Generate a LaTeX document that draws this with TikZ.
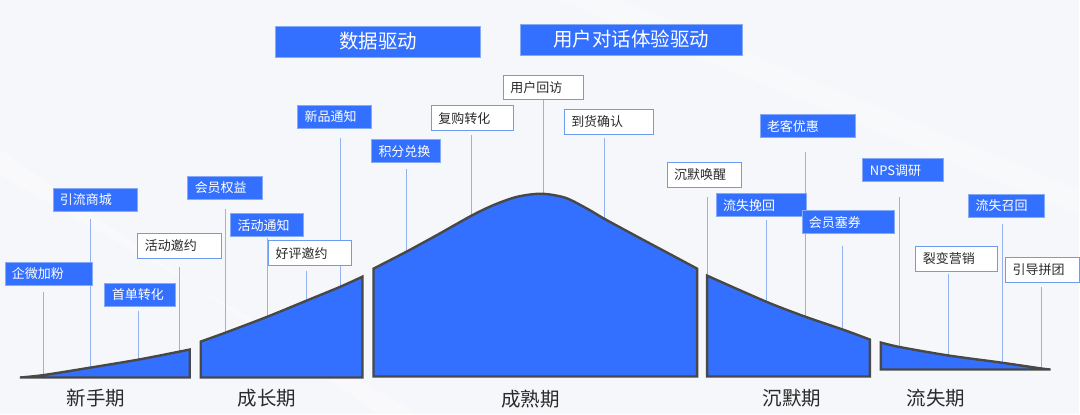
\documentclass[tikz,border=0pt]{standalone}
\usepackage{fontspec}
\newfontfamily\cjk{Noto Sans CJK SC}
\definecolor{mblue}{HTML}{3370FF}
\definecolor{bbord}{HTML}{86AAF6}
\definecolor{wbord}{HTML}{6E9BF2}
\definecolor{connc}{HTML}{93B3F0}
\definecolor{outl}{HTML}{484848}
\definecolor{bgc}{HTML}{F6F7FA}
\definecolor{txtc}{HTML}{2A2A2A}
\pgfdeclarelayer{bgl}
\pgfdeclarelayer{lines}
\pgfsetlayers{bgl,lines,main}
\tikzset{
  bl/.style={fill=mblue, draw=bbord, line width=0.8pt, text=white, align=left,
    inner xsep=7pt, inner ysep=0pt, minimum height=23pt, font=\cjk\fontsize{13}{15}\selectfont},
  wh/.style={fill=white, draw=wbord, line width=0.8pt, text=txtc, align=left,
    inner xsep=7pt, inner ysep=0pt, minimum height=25pt, font=\cjk\fontsize{13}{15}\selectfont},
  hdr/.style={fill=mblue, draw=bbord, line width=0.8pt, text=white, inner sep=0pt,
    minimum height=31pt, font=\cjk\fontsize{19.5}{22}\selectfont},
  stagebox/.style={fill=mblue, draw=outl, line width=2.4pt, line join=miter},
  stagelab/.style={text=txtc, font=\cjk\fontsize{19.5}{22}\selectfont, inner sep=0pt},
  conn/.style={draw=connc, line width=1pt},
}
\begin{document}
\begin{tikzpicture}[x=1pt,y=-1pt]
\begin{pgfonlayer}{bgl}
\useasboundingbox[fill=bgc] (0,0) rectangle (1080,415);
\fill[white,opacity=0.35] (0,150) -- (0,175) -- (420,415) -- (380,415) -- cycle;
\fill[white,opacity=0.3] (560,0) -- (620,0) -- (1080,190) -- (1080,215) -- cycle;
\end{pgfonlayer}

% ---------- headers ----------
\node[hdr, minimum width=205pt] (h1) at (378.5,41.5) {数据驱动};
\node[hdr, minimum width=222pt] (h2) at (632,39.5) {用户对话体验驱动};

% ---------- stage shapes ----------
\draw[stagebox] plot[smooth] coordinates {(20,378) (44,375.5) (91,368) (139,360) (180,352) (190,350)} -- (190,378) -- cycle;
\draw[stagebox] (201,378) -- plot[smooth] coordinates {(201,342) (226,333) (268,317) (307,301) (341,287) (363,277)} -- (363,378) -- cycle;
\draw[stagebox] (374,377) -- plot[smooth] coordinates {(374,269) (407,252) (440,234) (472,216) (495,205) (518,197) (542,194) (566,198) (588,209) (605,219) (640,238) (670,254) (698,269)} -- (698,377) -- cycle;
\draw[stagebox] (708,377) -- plot[smooth] coordinates {(708,276) (767,302) (806,317) (844,330) (871,340)} -- (871,377) -- cycle;
\draw[stagebox] (882,370) -- plot[smooth] coordinates {(882,343) (901,347.5) (950,356) (1002,363) (1043,369) (1052,370)} -- cycle;

% ---------- stage labels ----------
\node[stagelab] (s1) at (96,399) {新手期};
\node[stagelab] (s2) at (267.5,399) {成长期};
\node[stagelab] (s3) at (531,400) {成熟期};
\node[stagelab] (s4) at (793,399) {沉默期};
\node[stagelab] (s5) at (937,399) {流失期};

% ---------- curve anchor points ----------
\coordinate (p-qwjf) at (44,375.5);
\coordinate (p-ylsc) at (91,368);
\coordinate (p-sdzh) at (139,360);
\coordinate (p-hdyy) at (180,352);
\coordinate (p-hyqy) at (226,333);
\coordinate (p-hdtz) at (268,317);
\coordinate (p-hpyy) at (307,301);
\coordinate (p-xptz) at (341,287);
\coordinate (p-jfdh) at (407,252);
\coordinate (p-fgzh) at (472,216);
\coordinate (p-yhhf) at (544,194);
\coordinate (p-dhqr) at (605,219);
\coordinate (p-cmhx) at (708,276);
\coordinate (p-lswh) at (767,302);
\coordinate (p-lkyh) at (807,317);
\coordinate (p-hysq) at (844,330);
\coordinate (p-nps)  at (901,347.5);
\coordinate (p-lbyx) at (950,356);
\coordinate (p-lszh) at (1004,363);
\coordinate (p-ydpt) at (1043,369);

% ---------- label nodes ----------
\path
 node[bl, text width=74pt] (qwjf) at (49,274) {企微加粉}
 node[bl, text width=71pt] (ylsc) at (95.5,200) {引流商城}
 node[bl, text width=57pt] (sdzh) at (140.5,295) {首单转化}
 node[wh, text width=70pt] (hdyy) at (180,246) {活动邀约}
 node[bl, text width=61pt] (hyqy) at (225.5,188) {会员权益}
 node[bl, text width=59pt] (hdtz) at (267.5,225.5) {活动通知}
 node[wh, text width=69pt] (hpyy) at (310.5,253.5) {好评邀约}
 node[bl, text width=60pt] (xptz) at (335,117) {新品通知}
 node[bl, text width=55pt] (jfdh) at (406.5,151.5) {积分兑换}
 node[wh, text width=68pt] (fgzh) at (473,118.5) {复购转化}
 node[wh, text width=66pt] (yhhf) at (544,87.5) {用户回访}
 node[wh, text width=75pt] (dhqr) at (609.5,122) {到货确认}
 node[wh, text width=60pt] (cmhx) at (705,175) {沉默唤醒}
 node[bl, text width=76pt] (lswh) at (762,205.5) {流失挽回}
 node[bl, text width=81pt] (lkyh) at (808.5,126.5) {老客优惠}
 node[bl, text width=79pt] (hysq) at (849.5,222.5) {会员塞券}
 node[bl, text width=67pt] (nps)  at (904.5,170.5) {NPS调研}
 node[bl, text width=62pt] (lszh) at (1008,206) {流失召回}
 node[wh, text width=68pt] (lbyx) at (958,259) {裂变营销}
 node[wh, text width=60pt] (ydpt) at (1044,270) {引导拼团};

% ---------- connectors (behind boxes and shapes) ----------
\begin{pgfonlayer}{lines}
\draw[conn, shorten >=6pt]  (p-qwjf) -- (p-qwjf |- qwjf.south);
\draw[conn, shorten >=7pt]  (p-ylsc) -- (p-ylsc |- ylsc.south);
\draw[conn, shorten >=4pt]  (p-sdzh) -- (p-sdzh |- sdzh.south);
\draw[conn, shorten >=8pt]  (p-hdyy) -- (p-hdyy |- hdyy.south);
\draw[conn, shorten >=9pt]  (p-hyqy) -- (p-hyqy |- hyqy.south);
\draw[conn, shorten >=1pt]  (p-hdtz) -- (p-hdtz |- hdtz.south);
\draw[conn, shorten >=5pt]  (p-hpyy) -- (p-hpyy |- hpyy.south);
\draw[conn, shorten >=9pt]  (p-xptz) -- (p-xptz |- xptz.south);
\draw[conn, shorten >=6pt]  (p-jfdh) -- (p-jfdh |- jfdh.south);
\draw[conn, shorten >=4pt]  (p-fgzh) -- (p-fgzh |- fgzh.south);
\draw[conn]                 (p-yhhf) -- (p-yhhf |- yhhf.south);
\draw[conn, shorten >=3pt]  (p-dhqr) -- (p-dhqr |- dhqr.south);
\draw[conn, shorten >=9pt]  (p-cmhx) -- (p-cmhx |- cmhx.south);
\draw[conn, shorten >=3pt]  (p-lswh) -- (p-lswh |- lswh.south);
\draw[conn, shorten >=14pt] (p-lkyh) -- (p-lkyh |- lkyh.south);
\draw[conn, shorten >=12pt] (p-hysq) -- (p-hysq |- hysq.south);
\draw[conn, shorten >=15pt] (p-nps)  -- (p-nps |- nps.south);
\draw[conn, shorten >=6pt]  (p-lszh) -- (p-lszh |- lszh.south);
\draw[conn, shorten >=2pt]  (p-lbyx) -- (p-lbyx |- lbyx.south);
\draw[conn, shorten >=4pt]  (p-ydpt) -- (p-ydpt |- ydpt.south);
\end{pgfonlayer}
\end{tikzpicture}
\end{document}
